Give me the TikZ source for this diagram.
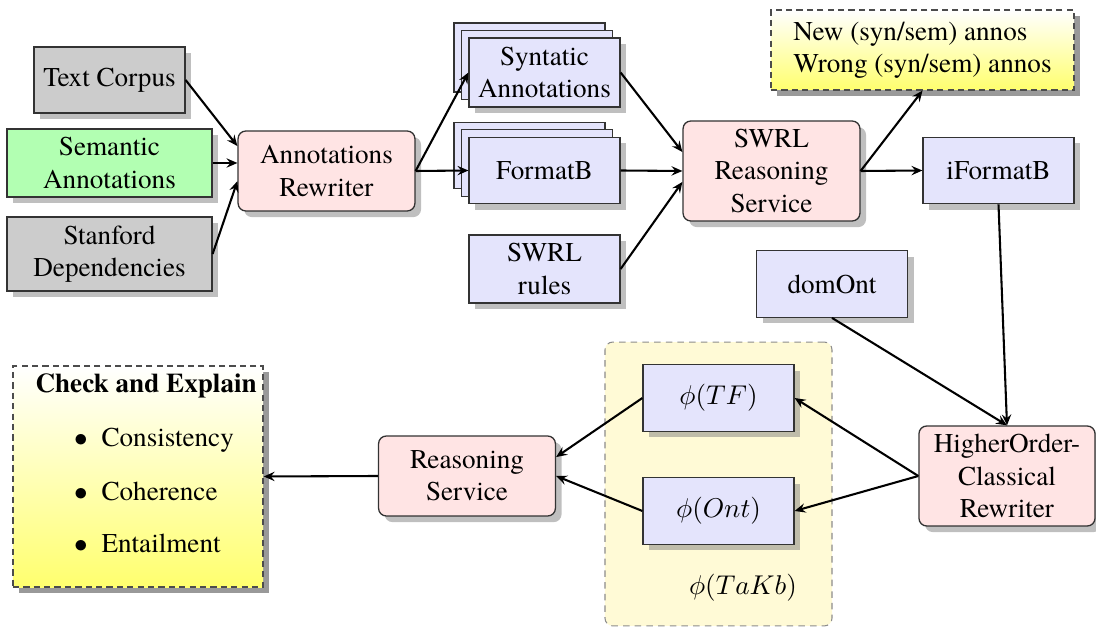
\documentclass[tikz,border=0pt]{standalone}
\usepackage{fix-cm}
\usepackage[no-math]{fontspec}
\setmainfont{texgyretermes}[Extension=.otf, UprightFont=*-regular, BoldFont=*-bold,
  ItalicFont=*-italic, BoldItalicFont=*-bolditalic]
\usetikzlibrary{shadows,arrows.meta}

\definecolor{boxgray}{RGB}{204,204,204}
\definecolor{boxgreen}{RGB}{178,255,178}
\definecolor{boxblue}{RGB}{228,228,252}
\definecolor{boxpink}{RGB}{255,228,228}
\definecolor{groupfill}{RGB}{255,250,214}
\definecolor{noteyellow}{RGB}{255,255,110}

\tikzset{
  boxbase/.style={draw=black!80, line width=0.5pt, align=center, inner sep=2pt},
  shadowed/.style={boxbase, drop shadow},
  graybox/.style={shadowed, fill=boxgray},
  greenbox/.style={shadowed, fill=boxgreen},
  bluebox/.style={shadowed, fill=boxblue},
  stackcopy/.style={boxbase, fill=boxblue},
  pinkbox/.style={shadowed, fill=boxpink, rounded corners=3pt},
  notebox/.style={boxbase, draw=black!70, dash pattern=on 2.4pt off 1.6pt,
    top color=white, bottom color=noteyellow,
    drop shadow={fill=black!40, opacity=1}},
  groupbox/.style={draw=black!45, line width=0.4pt, dash pattern=on 2.5pt off 2pt,
    fill=groupfill, rounded corners=3pt},
  conn/.style={thick, -{Stealth[length=4.2pt,width=3.6pt,inset=1.5pt]}},
  sq/.style={minimum width=58.1pt, minimum height=25.6pt},
}

\begin{document}
\fontsize{10.45}{12.4}\selectfont
\begin{tikzpicture}[x=0.385pt, y=-0.385pt]
\useasboundingbox (0,0) rectangle (1096,628);

% inputs
\node[graybox, minimum width=58.1pt, minimum height=25.4pt] (tc) at (109.5,80) {Text Corpus};
\node[greenbox, minimum width=78.9pt, minimum height=26.2pt] (sa) at (109.5,163) {Semantic\\Annotations};
\node[graybox, minimum width=78.9pt, minimum height=28.5pt] (sd) at (109.5,254) {Stanford\\Dependencies};
\node[pinkbox, minimum width=68.1pt, minimum height=30.8pt] (ar) at (326.5,171) {Annotations\\Rewriter};

% stacked documents
\node[stackcopy, minimum width=58.1pt, minimum height=26.6pt] (sync) at (529.5,57.5) {};
\node[stackcopy, minimum width=58.1pt, minimum height=26.6pt] (synb) at (537,65) {};
\node[bluebox, minimum width=58.1pt, minimum height=26.6pt] (syn) at (544.5,72.5) {Syntatic\\Annotations};

\node[stackcopy, sq] (fbc) at (529.5,155.5) {};
\node[stackcopy, sq] (fbb) at (537,163) {};
\node[bluebox, sq] (fb) at (544.5,170.5) {FormatB};

\node[bluebox, minimum width=58.1pt, minimum height=26.2pt] (sr) at (544.5,269) {SWRL\\rules};

% SWRL reasoning and outputs
\node[pinkbox, minimum width=68.1pt, minimum height=38.5pt] (swrs) at (771.5,171) {SWRL\\Reasoning\\Service};
\node[notebox, minimum width=116.7pt, minimum height=30.8pt, align=left] (note) at (922.5,50)
  {New (syn/sem) annos\\Wrong (syn/sem) annos};
\node[bluebox, sq] (ifb) at (998.5,170.5) {iFormatB};
\node[bluebox, sq] (dom) at (832,284) {domOnt};

% translated knowledge base group
\node[groupbox, minimum width=87.4pt, minimum height=109.3pt] (takb) at (718.5,484) {};
\node[bluebox, sq] (ptf) at (718.5,398) {$\phi(TF)$};
\node[bluebox, sq] (pont) at (718.5,511) {$\phi(Ont)$};
\node (takblbl) at (743,588) {$\phi(TaKb)$};

\node[pinkbox, minimum width=67.8pt, minimum height=38.5pt] (hoc) at (1007,476) {HigherOrder-\\Classical\\Rewriter};
\node[pinkbox, minimum width=68.1pt, minimum height=30.8pt] (rs) at (467,476) {Reasoning\\Service};

% check and explain panel
\node[notebox, minimum width=96.3pt, minimum height=85.1pt] (chk) at (138,476.5) {};
\node[anchor=base west, inner sep=0pt] (chkt) at (35,393) {\textbf{Check and Explain}};
\node[anchor=base, inner sep=0pt] (b1) at (81,447) {$\bullet$};
\node[anchor=base, inner sep=0pt] (b2) at (81,501) {$\bullet$};
\node[anchor=base, inner sep=0pt] (b3) at (81,553) {$\bullet$};
\node[anchor=base west, inner sep=0pt] (i1) at (101,447) {Consistency};
\node[anchor=base west, inner sep=0pt] (i2) at (101,501) {Coherence};
\node[anchor=base west, inner sep=0pt] (i3) at (101,553) {Entailment};

% connectors
\draw[conn] (tc.east) -- ([yshift=9.6pt]ar.west);
\draw[conn] (sa.east) -- (sa.east -| ar.west);
\draw[conn] (sd.east) -- ([yshift=-3.9pt]ar.west);
\draw[conn] (ar.east) -- (syn.west);
\draw[conn] (ar.east) -- (fb.west);
\draw[conn] (syn.east) -- ([yshift=7.3pt]swrs.west);
\draw[conn] (fb.east) -- (swrs.west);
\draw[conn] (sr.east) -- ([yshift=-4.2pt]swrs.west);
\draw[conn] (swrs.east) -- (note.south);
\draw[conn] (swrs.east) -- (ifb.west);
\draw[conn] (ifb.south) -- (hoc.north);
\draw[conn] (dom.south) -- (hoc.north);
\draw[conn] (hoc.west) -- (ptf.east);
\draw[conn] (hoc.west) -- (pont.east);
\draw[conn] (ptf.west) -- ([yshift=7.3pt]rs.east);
\draw[conn] (pont.west) -- (rs.east);
\draw[conn] (rs.west) -- (chk.east);
\end{tikzpicture}
\end{document}
